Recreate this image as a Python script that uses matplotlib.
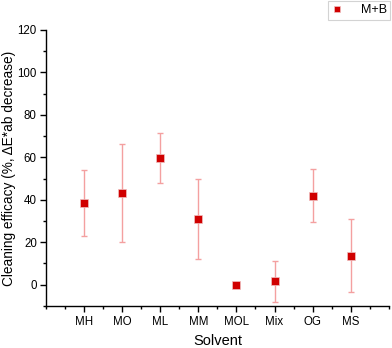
import numpy as np
import matplotlib.pyplot as plt
from matplotlib.ticker import MultipleLocator

plt.rcParams['font.family'] = ['Liberation Sans', 'DejaVu Sans']

solvents = ["MH", "MO", "ML", "MM", "MOL", "Mix", "OG", "MS"]
efficacy = [38.6, 43.1, 59.8, 30.9, 0.0, 1.5, 42.0, 13.6]
err = [15.6, 23.2, 11.7, 19.0, 0.0, 9.6, 12.7, 17.2]

fig = plt.figure(figsize=(3.92, 3.48), dpi=100)
ax = fig.add_axes([0.117, 0.121, 0.875, 0.793])

x = np.arange(1, len(solvents) + 1)
ax.errorbar(x, efficacy, yerr=err, fmt='none', ecolor='#f4a0a0', elinewidth=1.0,
            capsize=2.2, capthick=1.0, zorder=2)
ax.plot(x, efficacy, 's', color='#d00000', markersize=5.4, markeredgecolor='#f0c0c0',
        markeredgewidth=0.5, label='M+B', zorder=3)

ax.set_xlim(0, 9)
ax.set_ylim(-10, 120)
ax.set_xticks(x)
ax.set_xticklabels(solvents)
ax.xaxis.set_minor_locator(MultipleLocator(0.5))
ax.yaxis.set_major_locator(MultipleLocator(20))
ax.yaxis.set_minor_locator(MultipleLocator(10))
ax.tick_params(which='both', direction='out', labelsize=8.3, width=1.0)
ax.tick_params(which='major', length=4)
ax.tick_params(which='minor', length=2.5)
ax.tick_params(axis='y', which='major', pad=2.5)
ax.spines['top'].set_visible(False)
ax.spines['right'].set_visible(False)
ax.spines['left'].set_linewidth(1.0)
ax.spines['bottom'].set_linewidth(1.0)

ax.set_xlabel("Solvent", fontsize=10.5, labelpad=4)
ax.set_ylabel("Cleaning efficacy (%, \u0394E*ab decrease)", fontsize=9.8, labelpad=1)

leg = fig.legend(loc='upper right', bbox_to_anchor=(0.999, 1.0), fontsize=9,
                 frameon=True, fancybox=False, edgecolor='#c8c8c8', handlelength=1.0,
                 handletextpad=1.4, borderpad=0.25, borderaxespad=0.1, markerscale=0.8)
leg.get_frame().set_linewidth(0.8)

fig.savefig("out.png", dpi=100)
